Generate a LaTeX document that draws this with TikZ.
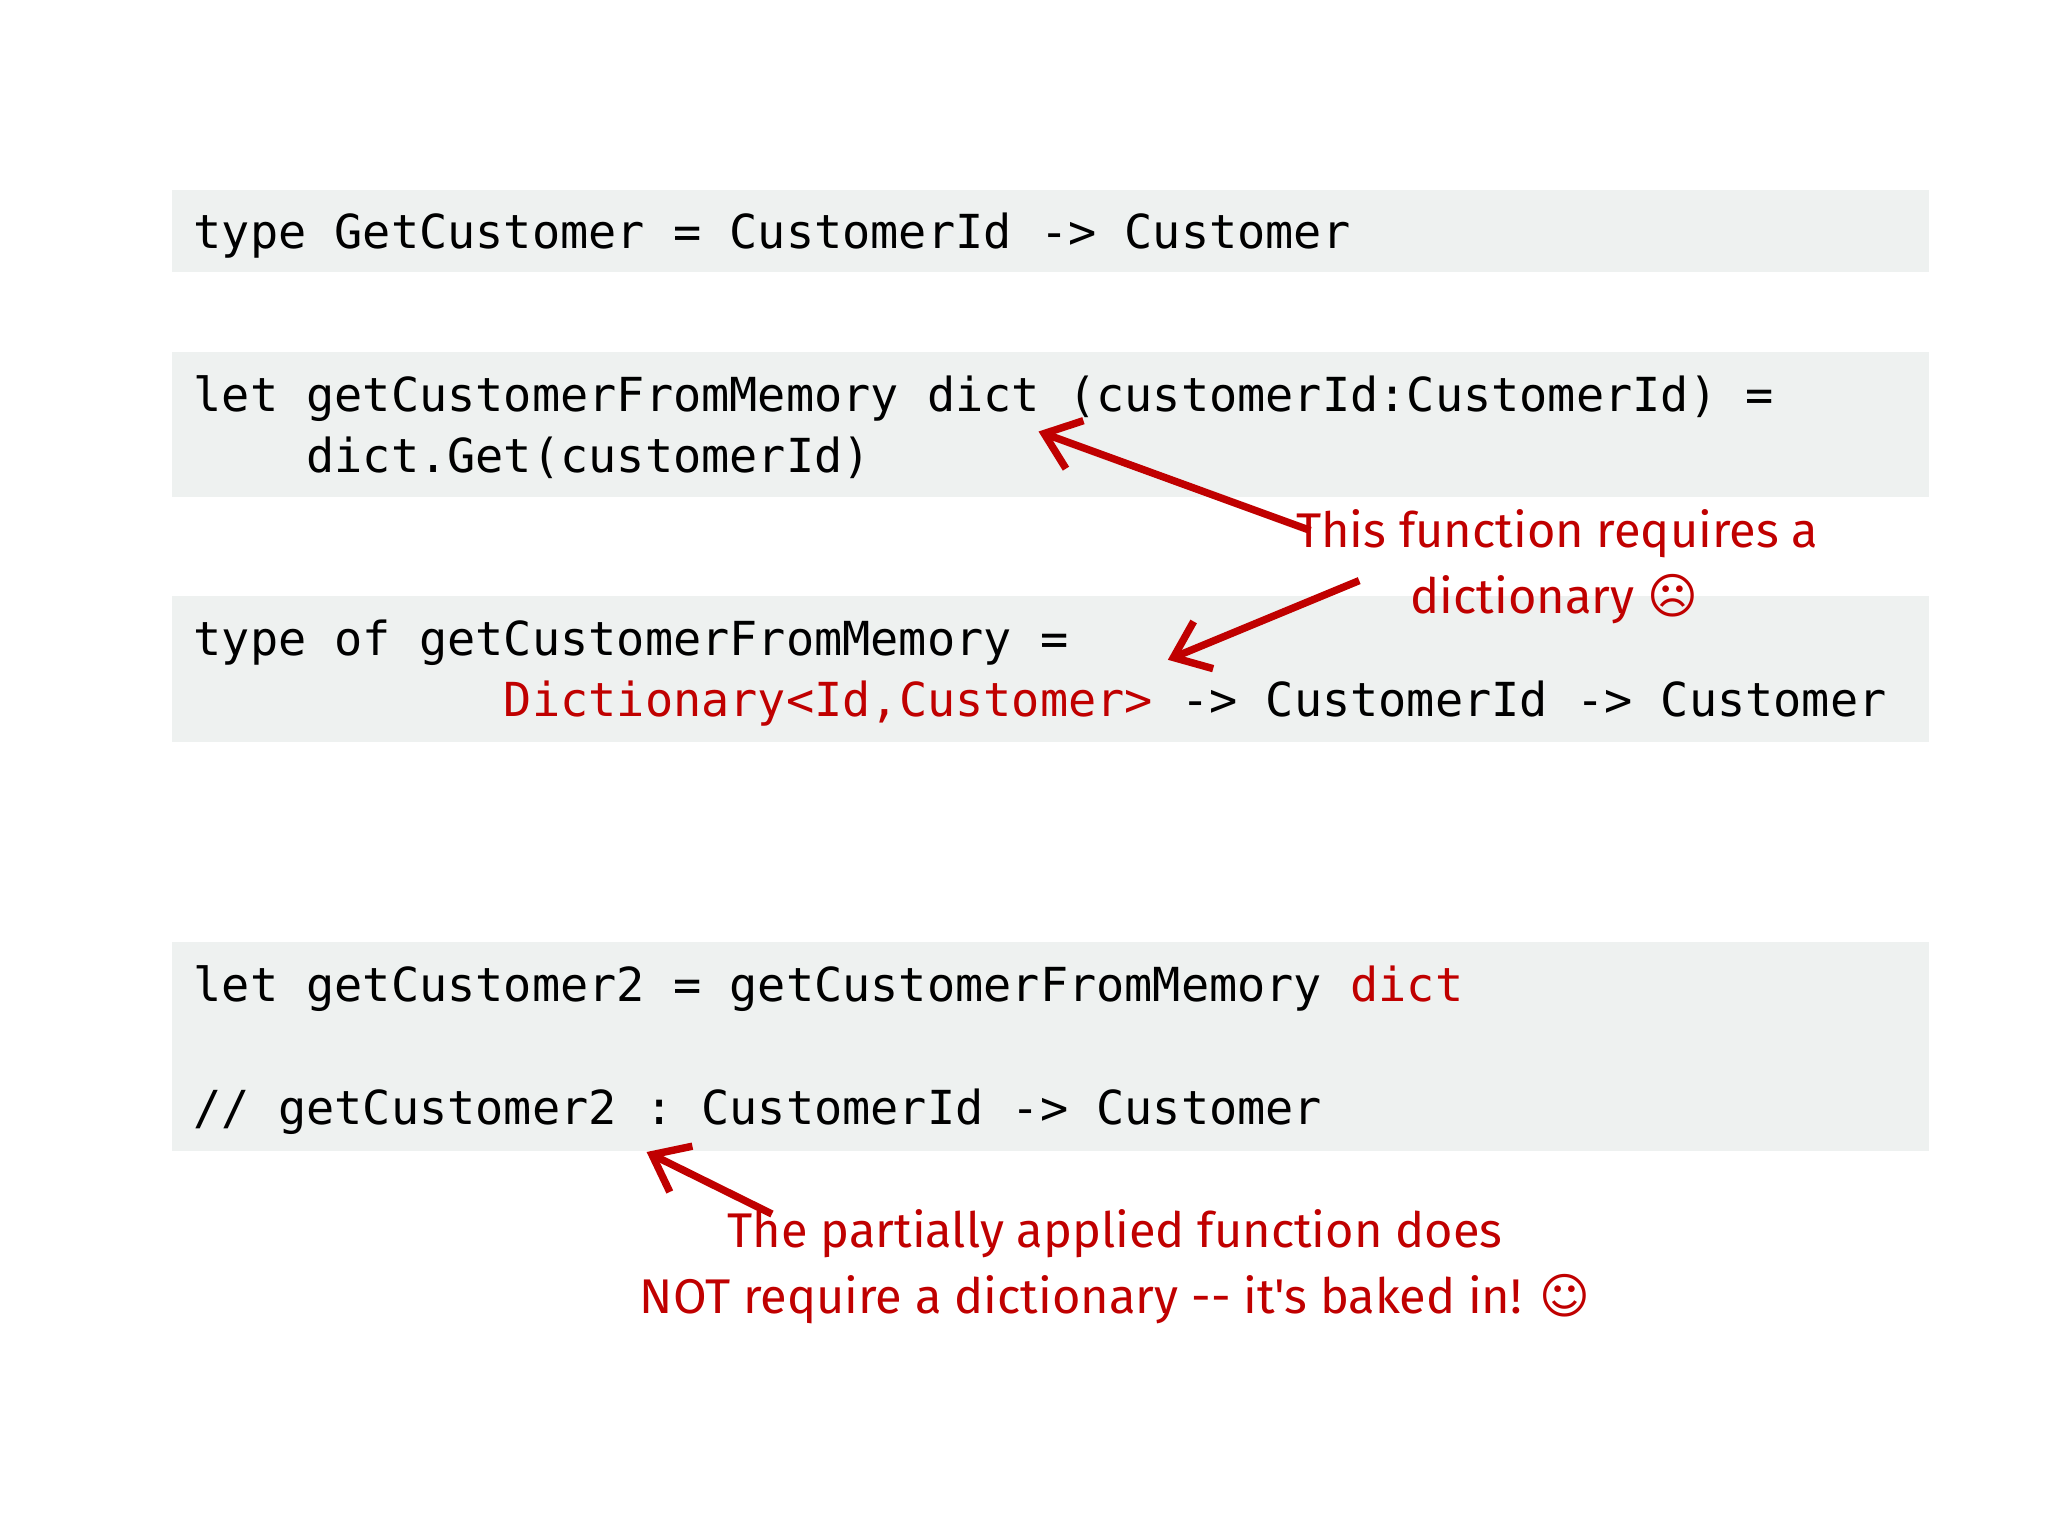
\documentclass[tikz,border=0pt]{standalone}
\usepackage{fontspec}
\usetikzlibrary{arrows.meta}
\setmonofont{DejaVu Sans Mono}
\newfontfamily\handf{Fira Sans}
\newfontfamily\symf{DejaVu Sans}
\definecolor{boxbg}{HTML}{EEF1F0}
\definecolor{annred}{HTML}{C00000}
\begin{document}
\begin{tikzpicture}[x=0.01cm,y=-0.01cm,
  codebox/.style={fill=boxbg,draw=none},
  code/.style={anchor=base west,inner sep=0pt,font=\ttfamily\fontsize{10.1pt}{12pt}\selectfont},
  ann/.style={anchor=base,inner sep=0pt,text=annred,font=\handf\fontsize{10.5pt}{13pt}\selectfont},
  redarrow/.style={draw=annred,line width=1.6pt,-{Straight Barb[length=7pt,width=11pt]}}]
\useasboundingbox (0,0) rectangle (1552,1164);
\fill[white] (0,0) rectangle (1552,1164);
\fill[codebox] (130,144) rectangle (1462,206);
\fill[codebox] (130,267) rectangle (1462,377);
\fill[codebox] (130,452) rectangle (1462,562);
\fill[codebox] (130,714) rectangle (1462,872);
\node[code] (l1) at (146,188) {type GetCustomer = CustomerId -> Customer};
\node[code] (l2) at (146,312) {let getCustomerFromMemory dict (customerId:CustomerId) =};
\node[code] (l3) at (146,358) {\ \ \ \ dict.Get(customerId)};
\node[code] (l4) at (146,497) {type of getCustomerFromMemory =};
\node[code] (l5) at (146,543) {\ \ \ \ \ \ \ \ \ \ \ \textcolor{annred}{Dictionary<Id,Customer>} -> CustomerId -> Customer};
\node[code] (l6) at (146,759) {let getCustomer2 = getCustomerFromMemory \textcolor{annred}{dict}};
\node[code] (l7) at (146,852) {// getCustomer2 : CustomerId -> Customer};
\node[ann] (a1) at (1180,415) {This function requires a};
\node[ann] (a2) at (1178,465) {dictionary {\symf ☹}};
\node[ann] (a3) at (845,945) {The partially applied function does};
\node[ann] (a4) at (845,995) {NOT require a dictionary -- it's baked in! {\symf ☺}};
\coordinate (s1) at (993,402); \coordinate (t1) at (787,327);
\coordinate (s2) at (1030,440); \coordinate (t2) at (885,500);
\coordinate (s3) at (585,920); \coordinate (t3) at (490,873);
\draw[redarrow] (s1) -- (t1);
\draw[redarrow] (s2) -- (t2);
\draw[redarrow] (s3) -- (t3);
\end{tikzpicture}
\end{document}
